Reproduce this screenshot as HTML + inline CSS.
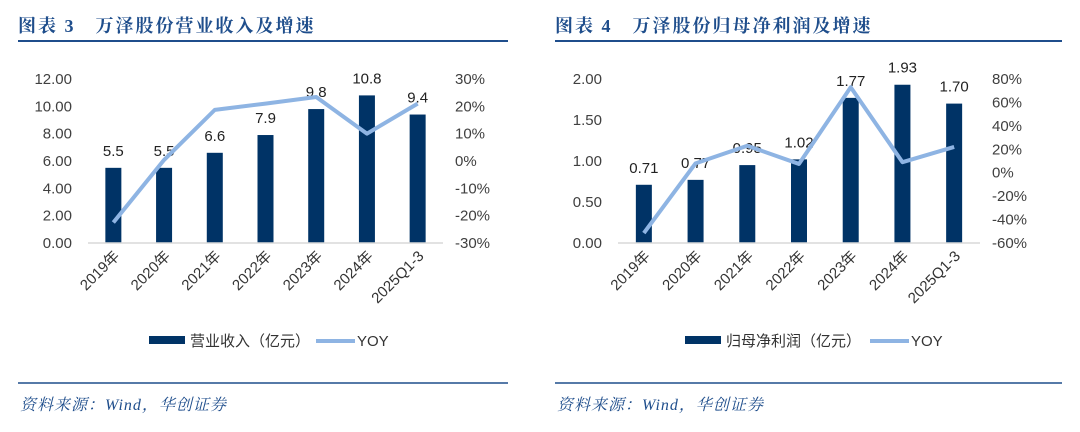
<!DOCTYPE html>
<html><head><meta charset="utf-8"><style>
body{margin:0;width:1080px;height:427px;background:#fff;overflow:hidden;font-family:"Liberation Sans","Noto Sans CJK SC",sans-serif}
svg text{font-family:"Liberation Sans","Noto Sans CJK SC",sans-serif}
.t{font-family:"Liberation Serif","Noto Serif CJK SC",serif;font-weight:bold;fill:#1f4e8c;font-size:18px;letter-spacing:2px}
.s{font-family:"Liberation Serif","Noto Serif CJK SC",serif;font-style:italic;fill:#1f4e8c;font-size:16px;letter-spacing:1px}
</style></head><body>
<svg id="c" width="1080" height="427">
<text class="t" x="18" y="32">图表 3　万泽股份营业收入及增速</text>
<text class="t" x="555" y="32">图表 4　万泽股份归母净利润及增速</text>
<line x1="18" y1="41" x2="508" y2="41" stroke="#1f4e8c" stroke-width="2"/>
<line x1="555" y1="41" x2="1062" y2="41" stroke="#1f4e8c" stroke-width="2"/>
<line x1="18" y1="383" x2="508" y2="383" stroke="#1f4e8c" stroke-width="1.5"/>
<line x1="555" y1="383" x2="1062" y2="383" stroke="#1f4e8c" stroke-width="1.5"/>
<text class="s" x="20" y="410">资料来源：Wind，华创证券</text>
<text class="s" x="557" y="410">资料来源：Wind，华创证券</text>
<g id="L"></g><g id="R"></g>
</svg>
<script>
const categories=["2019年","2020年","2021年","2022年","2023年","2024年","2025Q1-3"];
const revenue=[5.5,5.5,6.6,7.9,9.8,10.8,9.4];
const revenueYoy=[-22.5,0.4,18.7,21,23.4,10,21];
const revTicks=["0.00","2.00","4.00","6.00","8.00","10.00","12.00"];
const revYoyTicks=["-30%","-20%","-10%","0%","10%","20%","30%"];
const profit=[0.71,0.77,0.95,1.02,1.77,1.93,1.70];
const profitYoy=[-51.5,8,23,7.5,73,9,22];
const profTicks=["0.00","0.50","1.00","1.50","2.00"];
const profYoyTicks=["-60%","-40%","-20%","0%","20%","40%","60%","80%"];
const NS="http://www.w3.org/2000/svg";
function mk(p,tag,a,txt){const e=document.createElementNS(NS,tag);for(const k in a)e.setAttribute(k,a[k]);if(txt!==undefined)e.textContent=txt;p.appendChild(e);return e;}
function draw(g,cfg){
  const y0=243,y1=79;
  const yL=v=>y0-(v-cfg.lmin)/(cfg.lmax-cfg.lmin)*(y0-y1);
  const yR=v=>y0-(v-cfg.rmin)/(cfg.rmax-cfg.rmin)*(y0-y1);
  const step=(cfg.x1-cfg.x0)/categories.length;
  const xC=i=>cfg.x0+step*(i+0.5);
  cfg.lt.forEach((t,i)=>{const v=cfg.lmin+i*(cfg.lmax-cfg.lmin)/(cfg.lt.length-1);
    const e=mk(g,"text",{x:cfg.x0-16,y:yL(v)+5,"text-anchor":"end","font-size":15,fill:"#404040"},t);
    
    });
  cfg.rt.forEach((t,i)=>{const v=cfg.rmin+i*(cfg.rmax-cfg.rmin)/(cfg.rt.length-1);
    const e=mk(g,"text",{x:cfg.x1+12,y:yR(v)+5,"font-size":15,fill:"#404040"},t);
    
    });
  cfg.bars.forEach((v,i)=>{
    const b=mk(g,"rect",{x:xC(i)-8,y:yL(v),width:16,height:y0-yL(v),fill:"#003366"});
    
    
    const l=mk(g,"text",{x:xC(i),y:yL(v)-12,"text-anchor":"middle","font-size":15,fill:"#222"},cfg.fmt(v));
    
    
    const c=mk(g,"text",{x:0,y:0,"text-anchor":"end","font-size":15,fill:"#333",transform:`translate(${xC(i)+7},${y0+14}) rotate(-45)`},categories[i]);
    
    
  });
  const ax=mk(g,"line",{x1:cfg.x0,y1:y0,x2:cfg.x1,y2:y0,stroke:"#d9d9d9","stroke-width":1.5});
  
  
  const pl=mk(g,"polyline",{points:cfg.yoy.map((v,i)=>xC(i)+","+yR(v)).join(" "),fill:"none",stroke:"#8eb4e3","stroke-width":4,"stroke-linejoin":"round"});
  
  
  const lb=mk(g,"rect",{x:cfg.lg,y:336,width:36,height:8,fill:"#003366"});
  
  
  const lt=mk(g,"text",{x:cfg.lg+41,y:346,"font-size":15,fill:"#333"},cfg.lname);
  
  
  const ll=mk(g,"line",{x1:cfg.lg2,y1:341,x2:cfg.lg2+39,y2:341,stroke:"#8eb4e3","stroke-width":4});
  
  
  const lt2=mk(g,"text",{x:cfg.lg2+41,y:346,"font-size":15,fill:"#333"},"YOY");
  
  
}
draw(document.getElementById("L"),{x0:88,x1:443,lmin:0,lmax:12,rmin:-30,rmax:30,lt:revTicks,rt:revYoyTicks,bars:revenue,yoy:revenueYoy,fmt:v=>v.toFixed(1),lg:149,lg2:316,lname:"营业收入（亿元）"});
draw(document.getElementById("R"),{x0:618,x1:980,lmin:0,lmax:2,rmin:-60,rmax:80,lt:profTicks,rt:profYoyTicks,bars:profit,yoy:profitYoy,fmt:v=>v.toFixed(2),lg:685,lg2:870,lname:"归母净利润（亿元）"});
</script>
</body></html>
